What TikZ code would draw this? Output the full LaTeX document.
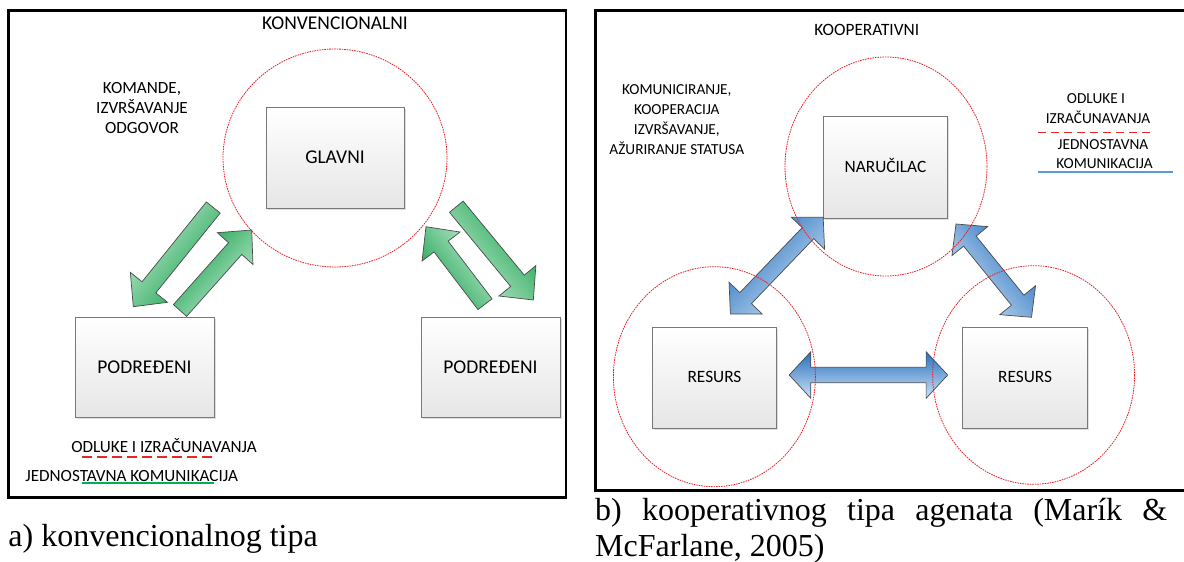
\documentclass[tikz,border=0pt]{standalone}
\usepackage{fontspec}
\setmainfont{Carlito}
\newfontfamily\captionserif{Liberation Serif}
\usetikzlibrary{calc,shadows}

\definecolor{ringred}{RGB}{235,30,35}
\definecolor{boxedge}{RGB}{120,120,120}
\definecolor{boxfoot}{RGB}{230,230,230}
\definecolor{arrowedge}{RGB}{75,75,75}
\definecolor{gdark}{RGB}{22,160,76}
\definecolor{glight}{RGB}{196,236,210}
\definecolor{bdark}{RGB}{38,112,190}
\definecolor{blight}{RGB}{206,226,245}
\definecolor{legred}{RGB}{230,40,40}
\definecolor{leggreen}{RGB}{0,176,80}
\definecolor{legblue}{RGB}{91,155,213}

% one-headed block arrow: options, tail, tip, shaft half width, head half width, head length
\newcommand\blockarrow[6]{%
  \path[#1] ($(#2)!#4!90:(#3)$) -- ($(#3)!#6!(#2)!#4!-90:(#2)$)
    -- ($(#3)!#6!(#2)!#5!-90:(#2)$) -- (#3)
    -- ($(#3)!#6!(#2)!#5!90:(#2)$) -- ($(#3)!#6!(#2)!#4!90:(#2)$)
    -- ($(#2)!#4!-90:(#3)$) -- cycle;}
% two-headed block arrow: options, end one, end two, shaft half width, head half width, head length
\newcommand\twowayarrow[6]{%
  \path[#1] (#2) -- ($(#2)!#6!(#3)!#5!90:(#3)$) -- ($(#2)!#6!(#3)!#4!90:(#3)$)
    -- ($(#3)!#6!(#2)!#4!-90:(#2)$) -- ($(#3)!#6!(#2)!#5!-90:(#2)$) -- (#3)
    -- ($(#3)!#6!(#2)!#5!90:(#2)$) -- ($(#3)!#6!(#2)!#4!90:(#2)$)
    -- ($(#2)!#6!(#3)!#4!-90:(#3)$) -- ($(#2)!#6!(#3)!#5!-90:(#3)$) -- cycle;}

\begin{document}
\begin{tikzpicture}[x=1pt,y=-1pt,
  frame/.style={draw=black,line width=2.7pt},
  ring/.style={draw=ringred,line width=0.8pt,dash pattern=on 1.6pt off 0.9pt},
  agent/.style={draw=boxedge,line width=0.9pt,top color=white,bottom color=boxfoot,
    inner sep=0pt,drop shadow={shadow xshift=1.5pt,shadow yshift=-1.5pt,opacity=0.25,fill=black!50}},
  bigL/.style={font=\fontsize{19.5}{23}\selectfont,text height=12.3pt,text depth=0pt},
  noteL/.style={inner sep=0pt,font=\fontsize{17.1}{20}\selectfont,text height=10.8pt,text depth=0pt},
  bigR/.style={font=\fontsize{17.3}{20}\selectfont,text height=10.9pt,text depth=0pt},
  noteR/.style={inner sep=0pt,font=\fontsize{15.3}{20}\selectfont,text height=9.7pt,text depth=0pt},
  greenarrow/.style={draw=arrowedge,line width=0.7pt,top color=gdark,bottom color=glight},
  bluearrow/.style={draw=arrowedge,line width=0.7pt,top color=bdark,bottom color=blight},
  caption/.style={inner sep=0pt,anchor=base west,font=\captionserif\fontsize{32}{38}\selectfont}
]
\useasboundingbox (0,0) rectangle (1184,562);

% ---------- panel frames ----------
\draw[frame] (8.3,10.5) rectangle (566,497.3);
\draw[frame] (595.5,10.5) rectangle (1192,490.7);

% ---------- a) conventional ----------
\node[bigL,inner sep=0pt] (konv) at (335,23.3) {KONVENCIONALNI};
\node[noteL] (cmdA) at (142,88) {KOMANDE,};
\node[noteL] (cmdB) at (142,108) {IZVRŠAVANJE};
\node[noteL] (cmdC) at (142,128) {ODGOVOR};

\coordinate (a1) at (213.3,207.5);  \coordinate (a2) at (133.3,306.7);
\coordinate (b1) at (180,310.5);    \coordinate (b2) at (251.7,230);
\coordinate (c1) at (485,304.2);    \coordinate (c2) at (426,226.7);
\coordinate (d1) at (456.3,206.7);  \coordinate (d2) at (533.3,300);
\blockarrow{greenarrow,shading angle=-129}{a1}{a2}{8.85pt}{23.9pt}{24.9pt}
\blockarrow{greenarrow,shading angle=48}{b1}{b2}{8.85pt}{23.9pt}{24.9pt}
\blockarrow{greenarrow,shading angle=127}{c1}{c2}{8.85pt}{23.9pt}{24.9pt}
\blockarrow{greenarrow,shading angle=-50.5}{d1}{d2}{8.85pt}{23.9pt}{24.9pt}

\draw[ring] (335,158) ellipse [x radius=112, y radius=109];

\node[agent,bigL,minimum width=138,minimum height=101] (glavni) at (335,157.5) {GLAVNI};
\node[agent,bigL,minimum width=139,minimum height=100] (pod1) at (144.5,367) {PODREĐENI};
\node[agent,bigL,minimum width=139,minimum height=100] (pod2) at (490.5,367) {PODREĐENI};

\node[noteL] (leg1) at (164,447) {ODLUKE I IZRAČUNAVANJA};
\draw[legred,line width=1.2pt,dash pattern=on 9.5pt off 5.5pt] (82,457) -- (212,457);
\node[noteL] (leg2) at (131.6,476) {JEDNOSTAVNA KOMUNIKACIJA};
\draw[leggreen,line width=1.2pt] (82,483) -- (214.3,483);

\node[caption] (capA) at (8.3,546.7) {a) konvencionalnog tipa};

% ---------- b) cooperative ----------
\node[bigR,inner sep=0pt] (koop) at (866.8,30) {KOOPERATIVNI};
\node[noteR] (comA) at (676.8,89.3) {KOMUNICIRANJE,};
\node[noteR] (comB) at (676.8,109.3) {KOOPERACIJA};
\node[noteR] (comC) at (676.8,129.3) {IZVRŠAVANJE,};
\node[noteR] (comD) at (676.8,149.3) {AŽURIRANJE STATUSA};

\node[noteR] (legR1) at (1096,98.3) {ODLUKE I};
\node[noteR] (legR2) at (1098,118.3) {IZRAČUNAVANJA};
\draw[legred,line width=1.2pt,dash pattern=on 8.3pt off 4.7pt] (1038,132.5) -- (1152,132.5);
\node[noteR] (legR3) at (1103,144.5) {JEDNOSTAVNA};
\node[noteR] (legR4) at (1104.5,163.8) {KOMUNIKACIJA};
\draw[legblue,line width=1.2pt] (1038,172) -- (1173,172);

\node[agent,bigR,minimum width=124.5,minimum height=102] (nar) at (885.5,167) {NARUČILAC};
\node[agent,bigR,minimum width=124.5,minimum height=101] (res1) at (714.5,377.5) {RESURS};
\node[agent,bigR,minimum width=124.5,minimum height=101] (res2) at (1025.1,377.5) {RESURS};

\coordinate (e1) at (730.4,314);    \coordinate (e2) at (823.2,217.3);
\coordinate (f1) at (956,224);      \coordinate (f2) at (1031.5,317.3);
\coordinate (g1) at (789.2,375);    \coordinate (g2) at (947.7,375);
\twowayarrow{bluearrow,shading angle=46}{e1}{e2}{8pt}{23pt}{22pt}
\twowayarrow{bluearrow,shading angle=-51}{f1}{f2}{8pt}{23pt}{22pt}
\twowayarrow{bluearrow,shading angle=0}{g1}{g2}{7.7pt}{23.3pt}{21.6pt}

\draw[ring] (886,166.5) ellipse [x radius=101, y radius=109.5];
\draw[ring] (714.4,376.7) ellipse [x radius=101, y radius=110];
\draw[ring] (1033.6,375) ellipse [x radius=101, y radius=109.3];

\node[caption] (capB1) at (595,520.7) {\makebox[572pt][s]{b) kooperativnog tipa agenata (Marík \&}};
\node[caption] (capB2) at (595,556.7) {McFarlane, 2005)};
\end{tikzpicture}
\end{document}
